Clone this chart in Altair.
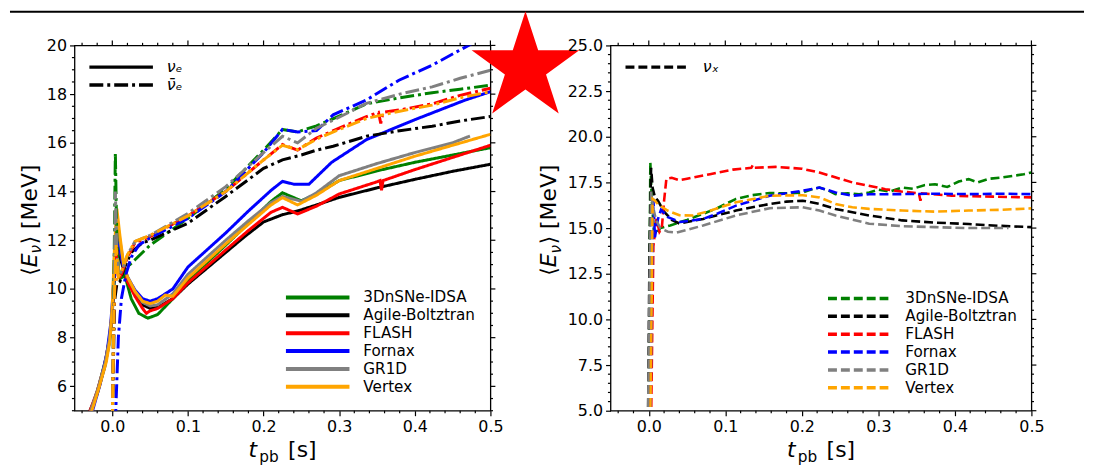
import altair as alt
import pandas as pd

MODELS = ["3DnSNe-IDSA", "Agile-Boltztran", "FLASH", "Fornax", "GR1D", "Vertex"]
COLORS = ["#008000", "#000000", "#ff0000", "#0000ff", "#808080", "#ffa500"]
NUE = "νₑ"
NUEBAR = "ν̄ₑ"
NUX = "νₓ"

# ---------------- left panel: nu_e (solid) ----------------
GREEN_NUE_T = [-0.03, -0.018, -0.008, -0.002, 0.002, 0.005, 0.008, 0.012, 0.018, 0.025, 0.035, 0.047, 0.06, 0.08, 0.1, 0.15, 0.18, 0.21, 0.225, 0.24, 0.25, 0.27, 0.3, 0.35, 0.4, 0.45, 0.5]
GREEN_NUE_V = [4.8, 6.0, 7.2, 8.3, 10.0, 11.8, 12.2, 11.5, 10.4, 9.6, 9.0, 8.8, 8.95, 9.6, 10.35, 11.8, 12.7, 13.6, 13.95, 13.75, 13.62, 13.9, 14.45, 14.85, 15.2, 15.5, 15.8]
BLACK_NUE_T = [-0.035, -0.02, -0.01, -0.004, 0.0, 0.003, 0.006, 0.01, 0.015, 0.02, 0.03, 0.04, 0.05, 0.06, 0.08, 0.1, 0.15, 0.175, 0.2, 0.225, 0.245, 0.27, 0.3, 0.35, 0.4, 0.45, 0.5]
BLACK_NUE_V = [4.6, 5.7, 6.8, 7.8, 9.0, 11.0, 12.0, 11.3, 10.8, 10.3, 9.8, 9.35, 9.2, 9.25, 9.6, 10.2, 11.5, 12.15, 12.75, 13.05, 13.2, 13.45, 13.76, 14.15, 14.5, 14.83, 15.12]
RED_NUE_T = [-0.033, -0.02, -0.01, -0.004, 0.0, 0.003, 0.006, 0.01, 0.015, 0.02, 0.03, 0.04, 0.045, 0.05, 0.06, 0.08, 0.1, 0.15, 0.18, 0.21, 0.225, 0.245, 0.27, 0.3, 0.35, 0.354, 0.356, 0.358, 0.4, 0.45, 0.5]
RED_NUE_V = [4.7, 5.8, 6.9, 7.9, 9.1, 11.2, 12.5, 11.6, 10.9, 10.3, 9.7, 9.2, 9.0, 9.1, 9.2, 9.6, 10.25, 11.6, 12.4, 13.15, 13.35, 13.08, 13.4, 13.9, 14.4, 14.45, 14.05, 14.45, 14.9, 15.4, 15.9]
BLUE_NUE_T = [-0.028, -0.016, -0.007, -0.002, 0.002, 0.005, 0.009, 0.014, 0.02, 0.03, 0.04, 0.05, 0.06, 0.08, 0.1, 0.15, 0.18, 0.21, 0.225, 0.24, 0.26, 0.29, 0.336, 0.4, 0.467, 0.5]
BLUE_NUE_V = [4.8, 6.1, 7.4, 8.6, 10.3, 12.0, 11.8, 11.0, 10.5, 9.95, 9.6, 9.5, 9.6, 10.0, 10.9, 12.3, 13.2, 14.05, 14.42, 14.3, 14.3, 15.2, 16.13, 16.95, 17.76, 18.1]
GRAY_NUE_T = [-0.032, -0.02, -0.01, -0.004, 0.0, 0.003, 0.006, 0.01, 0.015, 0.02, 0.03, 0.04, 0.05, 0.06, 0.08, 0.1, 0.15, 0.18, 0.21, 0.225, 0.25, 0.27, 0.3, 0.35, 0.4, 0.45, 0.473]
GRAY_NUE_V = [4.7, 5.8, 6.9, 7.9, 9.2, 11.5, 13.0, 12.0, 11.0, 10.5, 9.9, 9.45, 9.3, 9.35, 9.8, 10.6, 12.0, 12.8, 13.55, 13.8, 13.6, 13.95, 14.65, 15.15, 15.6, 16.0, 16.28]
ORANGE_NUE_T = [-0.03, -0.018, -0.008, -0.003, 0.0, 0.003, 0.006, 0.01, 0.015, 0.02, 0.03, 0.04, 0.05, 0.06, 0.07, 0.08, 0.1, 0.15, 0.18, 0.21, 0.225, 0.245, 0.27, 0.3, 0.35, 0.4, 0.45, 0.5]
ORANGE_NUE_V = [4.7, 5.9, 7.0, 7.9, 9.3, 11.8, 13.3, 12.2, 11.0, 10.5, 9.9, 9.5, 9.4, 9.5, 9.75, 9.7, 10.45, 11.85, 12.65, 13.45, 13.75, 13.45, 13.85, 14.45, 14.95, 15.45, 15.9, 16.35]

# ---------------- left panel: anti-nu_e (dash-dot) ----------------
GREEN_NUEB_T = [0.0, 0.002, 0.004, 0.006, 0.009, 0.014, 0.02, 0.03, 0.05, 0.1, 0.15, 0.2, 0.225, 0.245, 0.27, 0.3, 0.336, 0.38, 0.423, 0.46, 0.5]
GREEN_NUEB_V = [4.5, 10.0, 15.6, 12.0, 10.4, 10.5, 10.9, 11.2, 11.8, 12.9, 14.1, 15.7, 16.55, 16.45, 16.7, 17.1, 17.6, 17.85, 18.06, 18.2, 18.37]
BLACK_NUEB_T = [0.0, 0.003, 0.006, 0.01, 0.015, 0.025, 0.04, 0.05, 0.1, 0.15, 0.2, 0.225, 0.25, 0.27, 0.292, 0.336, 0.38, 0.423, 0.46, 0.5]
BLACK_NUEB_V = [4.5, 9.5, 10.2, 10.3, 10.8, 11.5, 11.9, 12.0, 12.7, 13.8, 14.95, 15.3, 15.5, 15.7, 15.86, 16.27, 16.5, 16.68, 16.9, 17.08]
RED_NUEB_T = [0.0, 0.002, 0.005, 0.008, 0.012, 0.02, 0.03, 0.05, 0.1, 0.15, 0.2, 0.225, 0.245, 0.27, 0.3, 0.336, 0.352, 0.355, 0.358, 0.38, 0.423, 0.46, 0.5]
RED_NUEB_V = [4.5, 9.0, 11.5, 10.4, 10.6, 11.3, 11.9, 12.15, 13.0, 14.0, 15.3, 15.93, 15.7, 16.2, 16.6, 17.08, 17.25, 16.8, 17.25, 17.35, 17.6, 17.95, 18.24]
BLUE_NUEB_T = [0.004, 0.008, 0.012, 0.018, 0.025, 0.035, 0.05, 0.1, 0.15, 0.2, 0.225, 0.245, 0.27, 0.292, 0.336, 0.379, 0.423, 0.471, 0.5]
BLUE_NUEB_V = [4.5, 8.0, 9.6, 10.6, 11.3, 11.8, 12.1, 12.9, 14.0, 15.6, 16.55, 16.45, 16.5, 17.15, 17.76, 18.57, 19.19, 20.0, 20.5]
GRAY_NUEB_T = [0.0, 0.002, 0.004, 0.006, 0.009, 0.014, 0.02, 0.03, 0.05, 0.1, 0.15, 0.2, 0.225, 0.245, 0.27, 0.3, 0.336, 0.38, 0.423, 0.46, 0.5]
GRAY_NUEB_V = [4.5, 9.5, 14.0, 11.5, 10.6, 10.8, 11.4, 11.95, 12.2, 13.1, 14.2, 15.6, 16.27, 16.0, 16.6, 17.05, 17.62, 18.0, 18.3, 18.65, 18.98]
ORANGE_NUEB_T = [0.0, 0.002, 0.005, 0.008, 0.012, 0.02, 0.03, 0.05, 0.1, 0.15, 0.2, 0.225, 0.245, 0.27, 0.3, 0.336, 0.38, 0.423, 0.46, 0.5]
ORANGE_NUEB_V = [4.5, 9.0, 11.8, 10.5, 10.7, 11.4, 11.95, 12.2, 13.0, 14.0, 15.3, 15.9, 15.72, 16.15, 16.55, 17.0, 17.3, 17.55, 17.85, 18.1]

# ---------------- right panel: nu_x (dashed) ----------------
GREEN_NUX_T = [0.0, 0.001, 0.002, 0.004, 0.007, 0.01, 0.015, 0.028, 0.05, 0.071, 0.09, 0.114, 0.135, 0.158, 0.18, 0.201, 0.215, 0.223, 0.235, 0.244, 0.26, 0.275, 0.288, 0.3, 0.315, 0.331, 0.345, 0.36, 0.374, 0.39, 0.405, 0.418, 0.43, 0.445, 0.461, 0.475, 0.49, 0.5]
GREEN_NUX_V = [4.5, 12.0, 18.6, 16.5, 14.6, 14.7, 15.0, 15.14, 15.45, 15.78, 16.1, 16.6, 16.8, 16.92, 16.9, 16.95, 17.15, 17.22, 17.05, 16.86, 16.9, 16.85, 16.95, 17.1, 17.0, 17.22, 17.15, 17.35, 17.4, 17.25, 17.55, 17.68, 17.5, 17.7, 17.77, 17.85, 17.95, 18.04]
BLACK_NUX_T = [-0.001, 0.001, 0.003, 0.005, 0.008, 0.012, 0.02, 0.03, 0.04, 0.071, 0.114, 0.158, 0.18, 0.201, 0.223, 0.244, 0.288, 0.331, 0.374, 0.418, 0.46, 0.5]
BLACK_NUX_V = [4.5, 14.0, 18.3, 17.2, 16.7, 16.5, 15.9, 15.45, 15.25, 15.5, 15.96, 16.32, 16.45, 16.5, 16.32, 16.05, 15.69, 15.42, 15.3, 15.22, 15.12, 15.05]
RED_NUX_T = [0.003, 0.006, 0.01, 0.014, 0.017, 0.02, 0.023, 0.03, 0.04, 0.05, 0.08, 0.11, 0.134, 0.136, 0.138, 0.166, 0.2, 0.223, 0.266, 0.309, 0.33, 0.353, 0.355, 0.357, 0.396, 0.45, 0.5]
RED_NUX_V = [4.5, 14.0, 15.5, 14.8, 15.0, 16.5, 17.7, 17.75, 17.62, 17.7, 17.95, 18.2, 18.3, 18.45, 18.3, 18.35, 18.25, 18.04, 17.5, 17.13, 17.0, 16.9, 16.5, 16.9, 16.77, 16.72, 16.68]
BLUE_NUX_T = [0.002, 0.004, 0.006, 0.008, 0.012, 0.016, 0.025, 0.041, 0.071, 0.09, 0.114, 0.158, 0.201, 0.223, 0.244, 0.266, 0.288, 0.331, 0.374, 0.418, 0.46, 0.5]
BLUE_NUX_V = [4.5, 12.0, 16.6, 14.5, 15.5, 16.0, 15.6, 15.33, 15.5, 15.8, 16.23, 16.77, 17.04, 17.22, 16.95, 16.77, 16.85, 16.86, 16.88, 16.86, 16.88, 16.86]
GRAY_NUX_T = [-0.001, 0.001, 0.003, 0.006, 0.01, 0.015, 0.025, 0.036, 0.071, 0.114, 0.158, 0.201, 0.223, 0.244, 0.288, 0.331, 0.374, 0.418, 0.47]
GRAY_NUX_V = [4.5, 12.0, 17.0, 16.0, 15.4, 15.0, 14.8, 14.75, 15.14, 15.69, 16.09, 16.14, 15.96, 15.69, 15.24, 15.1, 15.05, 15.0, 15.0]
ORANGE_NUX_T = [0.002, 0.003, 0.004, 0.005, 0.008, 0.012, 0.025, 0.04, 0.058, 0.08, 0.114, 0.158, 0.201, 0.223, 0.244, 0.266, 0.288, 0.331, 0.374, 0.418, 0.46, 0.5]
ORANGE_NUX_V = [4.5, 8.2, 12.0, 16.6, 16.5, 16.3, 15.95, 15.7, 15.69, 15.95, 16.41, 16.77, 16.8, 16.68, 16.32, 16.14, 16.05, 15.96, 15.9, 15.96, 16.0, 16.08]

X_MAJOR = [0.0, 0.1, 0.2, 0.3, 0.4, 0.5]
X_MINOR = [round(-0.04 + 0.02 * i, 2) for i in range(28) if round(-0.04 + 0.02 * i, 2) not in X_MAJOR]
YL_MAJOR = [6, 8, 10, 12, 14, 16, 18, 20]
YL_MINOR = [5 + 0.5 * i for i in range(31) if (5 + 0.5 * i) not in YL_MAJOR]
YR_MAJOR = [5.0, 7.5, 10.0, 12.5, 15.0, 17.5, 20.0, 22.5, 25.0]
YR_MINOR = [5 + 0.5 * i for i in range(41) if (5 + 0.5 * i) not in YR_MAJOR]

FONT = "DejaVu Sans"
ONE = pd.DataFrame({"d": [0]})
MAJ, MIN = 5.0, 2.6
W_L, W_R, H = 419, 424, 368


def frame(model, flavor, t, v):
    return pd.DataFrame({"model": model, "flavor": flavor, "t": t, "E": v})


left_df = pd.concat([
    frame("3DnSNe-IDSA", NUE, GREEN_NUE_T, GREEN_NUE_V),
    frame("Agile-Boltztran", NUE, BLACK_NUE_T, BLACK_NUE_V),
    frame("FLASH", NUE, RED_NUE_T, RED_NUE_V),
    frame("Fornax", NUE, BLUE_NUE_T, BLUE_NUE_V),
    frame("GR1D", NUE, GRAY_NUE_T, GRAY_NUE_V),
    frame("Vertex", NUE, ORANGE_NUE_T, ORANGE_NUE_V),
    frame("3DnSNe-IDSA", NUEBAR, GREEN_NUEB_T, GREEN_NUEB_V),
    frame("Agile-Boltztran", NUEBAR, BLACK_NUEB_T, BLACK_NUEB_V),
    frame("FLASH", NUEBAR, RED_NUEB_T, RED_NUEB_V),
    frame("Fornax", NUEBAR, BLUE_NUEB_T, BLUE_NUEB_V),
    frame("GR1D", NUEBAR, GRAY_NUEB_T, GRAY_NUEB_V),
    frame("Vertex", NUEBAR, ORANGE_NUEB_T, ORANGE_NUEB_V),
], ignore_index=True)

right_df = pd.concat([
    frame("3DnSNe-IDSA", NUX, GREEN_NUX_T, GREEN_NUX_V),
    frame("Agile-Boltztran", NUX, BLACK_NUX_T, BLACK_NUX_V),
    frame("FLASH", NUX, RED_NUX_T, RED_NUX_V),
    frame("Fornax", NUX, BLUE_NUX_T, BLUE_NUX_V),
    frame("GR1D", NUX, GRAY_NUX_T, GRAY_NUX_V),
    frame("Vertex", NUX, ORANGE_NUX_T, ORANGE_NUX_V),
], ignore_index=True)


def axis(orient, values, fmt):
    return alt.Axis(orient=orient, values=values, labels=True, tickSize=MAJ, title=None,
                    domain=False, grid=False, ticks=True, tickColor="black",
                    tickWidth=1.2, format=fmt)


def tick_layers(xs, ys, xaxis, yaxis, y_major, y_minor, width):
    """Mirrored (top/right) and minor tick marks drawn as rules placed by the scales."""
    out = []
    for vals, length, sides in [(X_MAJOR, MAJ, ("top",)), (X_MINOR, MIN, ("top", "bottom"))]:
        df = pd.DataFrame({"t": vals})
        for side in sides:
            y0, y1 = ((-length, 0) if side == "top" else (H, H + length))
            out.append(alt.Chart(df).mark_rule(color="black", strokeWidth=1.2).encode(
                x=alt.X("t:Q", scale=xs, axis=xaxis),
                y=alt.value(y0), y2=alt.value(y1)))
    for vals, length, sides in [(y_major, MAJ, ("right",)), (y_minor, MIN, ("right", "left"))]:
        df = pd.DataFrame({"E": vals})
        for side in sides:
            x0, x1 = ((width, width + length) if side == "right" else (-length, 0))
            out.append(alt.Chart(df).mark_rule(color="black", strokeWidth=1.2).encode(
                y=alt.Y("E:Q", scale=ys, axis=yaxis),
                x=alt.value(x0), x2=alt.value(x1)))
    return out


def text_layer(txt, x, y, size, style="normal", angle=0):
    return alt.Chart(ONE).mark_text(
        align="left", baseline="alphabetic", font=FONT, fontSize=size,
        fontStyle=style, angle=angle, color="black"
    ).encode(x=alt.value(x), y=alt.value(y), text=alt.value(txt))


def title_layers(cx, ybase_x):
    layers = [
        text_layer("t", cx - 34.3, 414.3, 22, "italic"),
        text_layer("pb", cx - 23.3, 419.5, 15.4),
        text_layer("[s]", cx + 5.7, 414.3, 22),
    ]
    y0 = 232
    layers += [
        text_layer("⟨", ybase_x, y0, 22, "normal", 270),
        text_layer("E", ybase_x, y0 - 8.6, 22, "italic", 270),
        text_layer("ν", ybase_x + 4.5, y0 - 22.5, 15.4, "italic", 270),
        text_layer("⟩ [MeV]", ybase_x, y0 - 31.6, 22, "normal", 270),
    ]
    return layers


# ---------- left ----------
xs_l = alt.Scale(domain=[-0.05, 0.5], nice=False, zero=False)
ys_l = alt.Scale(domain=[5, 20], nice=False, zero=False)
xax_l = axis("bottom", X_MAJOR, ".1f")
yax_l = axis("left", YL_MAJOR, "d")

lines_l = alt.Chart(left_df).mark_line(clip=True, strokeWidth=3).encode(
    x=alt.X("t:Q", scale=xs_l, axis=xax_l),
    y=alt.Y("E:Q", scale=ys_l, axis=yax_l),
    color=alt.Color("model:N", scale=alt.Scale(domain=MODELS, range=COLORS),
                    legend=alt.Legend(title=None, orient="bottom-right", offset=15,
                                      symbolType="stroke", symbolSize=4096,
                                      symbolStrokeWidth=4, labelFontSize=15.3,
                                      clipHeight=17.8, rowPadding=0, labelOffset=12,
                                      padding=0, symbolOpacity=1)),
    strokeDash=alt.StrokeDash("flavor:N",
                              scale=alt.Scale(domain=[NUE, NUEBAR], range=[[1, 0], [14, 4, 3, 4]]),
                              legend=alt.Legend(title=None, orient="top-left", offset=13,
                                                symbolType="stroke", symbolSize=4096,
                                                symbolStrokeWidth=3.5, symbolStrokeColor="black",
                                                labelFontSize=16, labelFontStyle="italic",
                                                clipHeight=17.7, rowPadding=0, labelOffset=12,
                                                padding=0)),
)

top_rule = alt.Chart(ONE).mark_rule(color="black", strokeWidth=2).encode(
    x=alt.value(-65), x2=alt.value(1017), y=alt.value(-34))

STAR = "M0,-1L0.2245,-0.309L0.951,-0.309L0.3633,0.118L0.588,0.809L0,0.382L-0.588,0.809L-0.3633,0.118L-0.951,-0.309L-0.2245,-0.309Z"
star = alt.Chart(ONE).mark_point(shape=STAR, filled=True, color="#ff0000", opacity=1,
                                 size=13000, strokeWidth=0).encode(
    x=alt.value(454.3), y=alt.value(22.5))

left = alt.layer(
    lines_l, *tick_layers(xs_l, ys_l, xax_l, yax_l, YL_MAJOR, YL_MINOR, W_L),
    *title_layers(W_L / 2, -38), top_rule, star
).properties(width=W_L, height=H)

# ---------- right ----------
xs_r = alt.Scale(domain=[-0.05, 0.5], nice=False, zero=False)
ys_r = alt.Scale(domain=[5, 25], nice=False, zero=False)
xax_r = axis("bottom", X_MAJOR, ".1f")
yax_r = axis("left", YR_MAJOR, ".1f")

lines_r = alt.Chart(right_df).mark_line(clip=True, strokeWidth=2.6).encode(
    x=alt.X("t:Q", scale=xs_r, axis=xax_r),
    y=alt.Y("E:Q", scale=ys_r, axis=yax_r),
    color=alt.Color("model:N", scale=alt.Scale(domain=MODELS, range=COLORS),
                    legend=alt.Legend(title=None, orient="bottom-right", offset=14,
                                      symbolType="stroke", symbolSize=3700,
                                      symbolStrokeWidth=3.5, symbolDash=[9, 4],
                                      labelFontSize=15.3, clipHeight=17.8, rowPadding=0,
                                      labelOffset=15, padding=0, symbolOpacity=1)),
    strokeDash=alt.StrokeDash("flavor:N", scale=alt.Scale(domain=[NUX], range=[[9, 4]]),
                              legend=alt.Legend(title=None, orient="top-left", offset=13,
                                                symbolType="stroke", symbolSize=3700,
                                                symbolStrokeWidth=3.5, symbolStrokeColor="black",
                                                labelFontSize=16, labelFontStyle="italic",
                                                clipHeight=17.7, rowPadding=0, labelOffset=15,
                                                padding=0)),
)

right = alt.layer(
    lines_r, *tick_layers(xs_r, ys_r, xax_r, yax_r, YR_MAJOR, YR_MINOR, W_R),
    *title_layers(W_R / 2, -54.5)
).properties(width=W_R, height=H)

chart = alt.hconcat(left, right, spacing=121, bounds="flush").resolve_scale(
    x="independent", y="independent", color="independent", strokeDash="independent"
).properties(padding=0).configure_view(
    stroke="black", strokeWidth=1.3
).configure_axis(
    labelFont=FONT, labelFontSize=16, labelColor="black", tickColor="black",
    tickWidth=1.2, labelFlush=False, labelOverlap=False, labelPadding=3
).configure_legend(
    labelFont=FONT, labelColor="black"
)

chart.save("out.html", embed_options={"renderer": "svg", "actions": False})
